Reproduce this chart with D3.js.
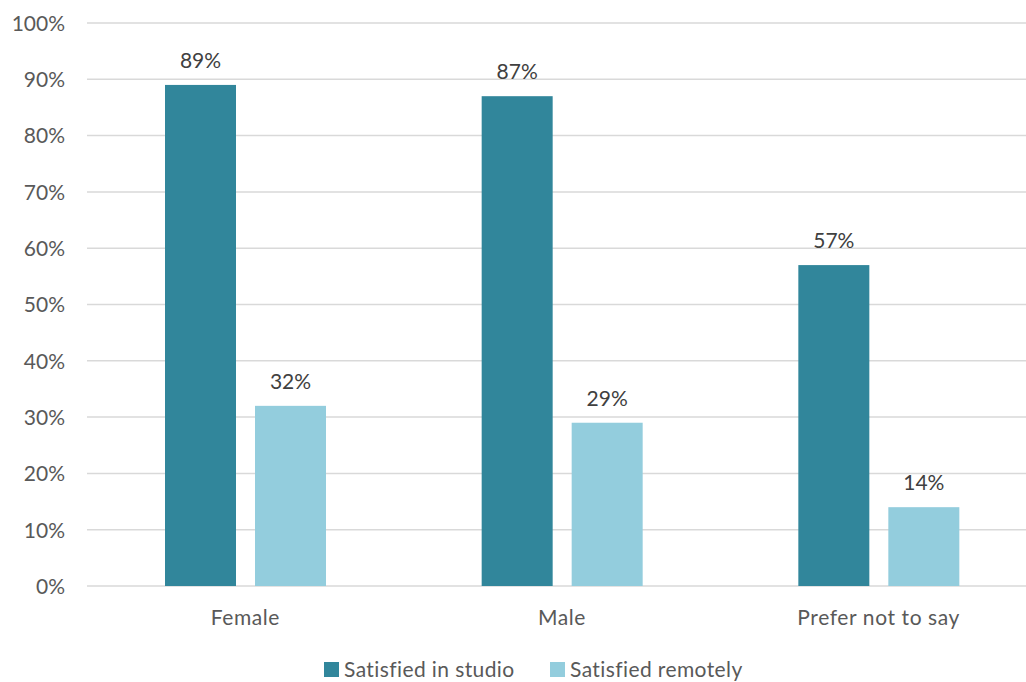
<!DOCTYPE html>
<html>
<head>
<meta charset="utf-8">
<script src="https://cdn.jsdelivr.net/npm/d3@7"></script>
<style>
  html, body { margin: 0; padding: 0; background: #fff; }
  text { font-family: Lato, "Open Sans", sans-serif; fill: #595959; }
</style>
</head>
<body>
<svg id="chart" width="1026" height="682"></svg>
<script>
// Satisfaction by gender, in studio vs remotely
const categories = ["Female", "Male", "Prefer not to say"];
const seriesNames = ["Satisfied in studio", "Satisfied remotely"];
const inStudio = [89, 87, 57];
const remotely = [32, 29, 14];
const yTicks = [0, 10, 20, 30, 40, 50, 60, 70, 80, 90, 100];
const colors = ["#31869b", "#93cddd"];

const seriesValues = [inStudio, remotely];
const rows = categories.map((c, i) => ({
  category: c,
  values: seriesNames.map((s, j) => ({ series: s, idx: j, value: seriesValues[j][i] }))
}));

const svg = d3.select("#chart");
const plotLeft = 87, plotRight = 1037, plotTop = 23, plotBottom = 586;

const x0 = d3.scaleBand().domain(categories).range([plotLeft, plotRight]).padding(0);
const x1 = d3.scaleBand().domain(seriesNames)
  .range([78, 78 + 161]).paddingInner(0.2111).paddingOuter(0);
const y = d3.scaleLinear().domain([0, 100]).range([plotBottom, plotTop]);

// gridlines
svg.append("g").selectAll("line").data(yTicks).join("line")
  .attr("x1", plotLeft).attr("x2", 1026)
  .attr("y1", d => y(d)).attr("y2", d => y(d))
  .attr("stroke", "#d9d9d9").attr("stroke-width", 1.5);

// y axis labels
const yAxis = d3.axisLeft(y).tickValues(yTicks).tickFormat(d => d + "%").tickSize(0).tickPadding(0);
const gy = svg.append("g").attr("transform", "translate(65,0)").call(yAxis);
gy.select(".domain").remove();
gy.selectAll("text").style("font-size", "21px").attr("fill", "#595959")
  .attr("dy", "0.35em").style("font-family", "Lato, sans-serif");

// bars
const groups = svg.append("g").selectAll("g").data(rows).join("g")
  .attr("transform", d => `translate(${x0(d.category)},0)`);

groups.selectAll("rect").data(d => d.values).join("rect")
  .attr("x", d => x1(d.series))
  .attr("width", x1.bandwidth())
  .attr("y", d => y(d.value))
  .attr("height", d => y(0) - y(d.value))
  .attr("fill", d => colors[d.idx]);

groups.selectAll("text.val").data(d => d.values).join("text")
  .attr("class", "val")
  .attr("x", d => x1(d.series) + x1.bandwidth() / 2)
  .attr("y", d => y(d.value) - 17)
  .attr("text-anchor", "middle")
  .style("font-size", "21px")
  .style("fill", "#404040")
  .text(d => d.value + "%");

// x axis labels
const xAxis = d3.axisBottom(x0).tickSize(0).tickPadding(0);
const gx = svg.append("g").attr("transform", `translate(0,${plotBottom})`).call(xAxis);
gx.select(".domain").remove();
gx.selectAll("text").style("font-size", "21px").attr("fill", "#595959")
  .style("letter-spacing", "0.6px")
  .attr("dy", null).attr("y", 39).style("font-family", "Lato, sans-serif");

// legend
const legendX = [324, 550];
const legend = svg.append("g").selectAll("g").data(seriesNames).join("g")
  .attr("transform", (d, i) => `translate(${legendX[i]},0)`);
legend.append("rect").attr("x", 0).attr("y", 662).attr("width", 15).attr("height", 15)
  .attr("fill", (d, i) => colors[i]);
legend.append("text").attr("x", 20).attr("y", 677)
  .style("font-size", "21px").style("letter-spacing", "0.4px").text(d => d);
</script>
</body>
</html>
